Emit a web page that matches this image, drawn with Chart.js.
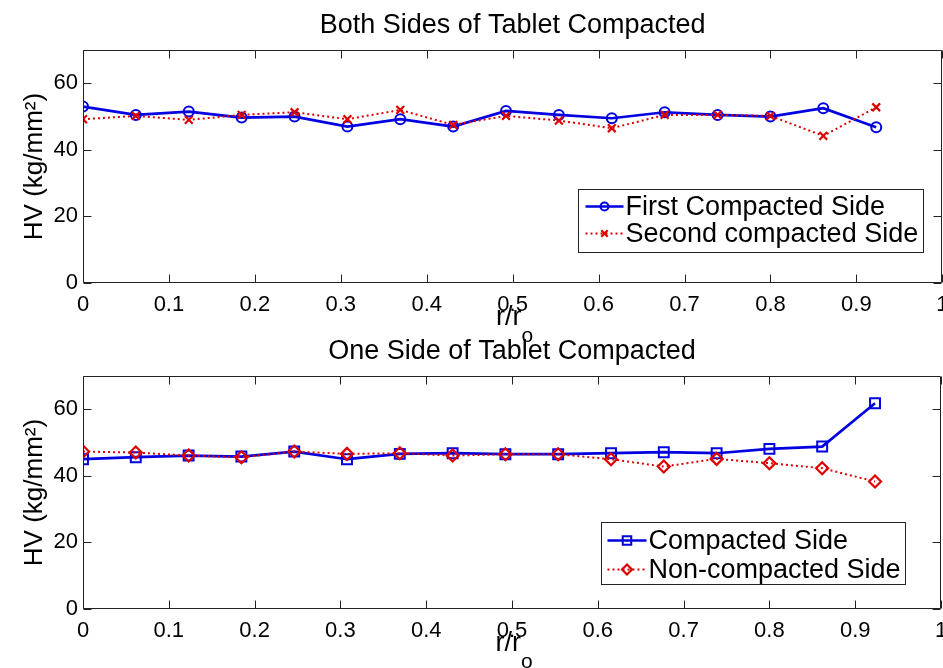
<!DOCTYPE html>
<html lang="en">
<head>
<meta charset="UTF-8">
<title>Tablet hardness profile</title>
<script src="https://cdn.jsdelivr.net/npm/chart.js@4.4.0/dist/chart.umd.min.js"></script>
<style>
    html, body { margin: 0; padding: 0; background: #fff; overflow: hidden; }
    canvas { position: absolute; left: 0; }
    #both_sides { top: 0; }
    #one_side { top: 326px; }
</style>
</head>
<body>
<!-- canvases a bit wider than the window so the last x label runs off the edge -->
<canvas id="both_sides" width="950" height="342"></canvas>
<canvas id="one_side" width="950" height="342"></canvas>
<script>
// radial position r/ro of each indentation
const rRatio = [0, 0.0615, 0.1231, 0.1846, 0.2462, 0.3077, 0.3692, 0.4308, 0.4923, 0.5538, 0.6154, 0.6769, 0.7385, 0.8, 0.8615, 0.9231];

// Vickers hardness, kg/mm2
const firstSide = [53.0, 50.5, 51.5, 49.7, 50.0, 47.0, 49.2, 47.0, 51.7, 50.5, 49.5, 51.3, 50.5, 50.0, 52.5, 46.8];
const secondSide = [49.2, 50.2, 49.0, 50.5, 51.3, 49.2, 52.0, 47.5, 50.2, 48.8, 46.5, 50.5, 50.5, 50.2, 44.2, 52.8];
const compactedSide = [45.0, 45.6, 46.1, 45.8, 47.3, 45.0, 46.6, 46.8, 46.5, 46.5, 46.8, 47.1, 46.8, 48.1, 48.8, 61.8];
const nonCompactedSide = [47.3, 47.0, 46.1, 45.6, 47.3, 46.6, 46.8, 46.1, 46.5, 46.5, 45.0, 42.8, 45.1, 43.8, 42.3, 38.3];

const xTicks = [0, 0.1, 0.2, 0.3, 0.4, 0.5, 0.6, 0.7, 0.8, 0.9, 1];
const yTicks = [0, 20, 40, 60];

const BLUE = 'rgb(0,0,225)';
const RED = 'rgb(222,0,0)';
const FONT = '"Liberation Sans", Arial, Helvetica, sans-serif';

function toPoints(values) {
    return values.map((v, i) => ({ x: rRatio[i], y: v }));
}

function solidSeries(label, values, marker, radius) {
    return {
        label: label, data: toPoints(values),
        borderColor: BLUE, borderWidth: 2.7, tension: 0,
        pointStyle: marker, pointRadius: radius, pointBorderWidth: 2,
        pointBorderColor: BLUE, pointBackgroundColor: 'rgba(0,0,0,0)',
        order: 1
    };
}

function dottedSeries(label, values, marker, radius) {
    return {
        label: label, data: toPoints(values),
        borderColor: RED, borderWidth: 2, borderDash: [2, 3], tension: 0,
        pointStyle: marker, pointRadius: radius, pointBorderWidth: 2.2,
        pointBorderColor: RED, pointBackgroundColor: 'rgba(0,0,0,0)',
        order: 0
    };
}

// box, inward ticks, title, x label and legend drawn the matlab way
const matlabAxes = {
    id: 'matlabAxes',
    afterDraw(chart, args, opts) {
        const ctx = chart.ctx;
        const a = chart.chartArea;
        const x = chart.scales.x, y = chart.scales.y;
        const L = Math.round(a.left) + 0.5, R = Math.round(a.right) - 0.5;
        const T = Math.round(a.top) + 0.5, B = Math.round(a.bottom) - 0.5;
        const tick = 8;
        ctx.save();
        ctx.strokeStyle = '#222';
        ctx.lineWidth = 1;
        ctx.setLineDash([]);
        ctx.beginPath();
        ctx.moveTo(L, T); ctx.lineTo(R, T); ctx.lineTo(R, B); ctx.lineTo(L, B); ctx.closePath();
        x.ticks.forEach(t => {
            const px = Math.round(x.getPixelForValue(t.value)) + 0.5;
            ctx.moveTo(px, B); ctx.lineTo(px, B - tick);
            ctx.moveTo(px, T); ctx.lineTo(px, T + tick);
        });
        y.ticks.forEach(t => {
            const py = Math.round(y.getPixelForValue(t.value)) + 0.5;
            ctx.moveTo(L, py); ctx.lineTo(L + tick, py);
            ctx.moveTo(R, py); ctx.lineTo(R - tick, py);
        });
        ctx.stroke();

        const cx = (a.left + a.right) / 2;
        ctx.fillStyle = '#000';
        ctx.textBaseline = 'middle';

        // title
        ctx.textAlign = 'center';
        ctx.font = '27px ' + FONT;
        ctx.fillText(opts.title, cx, a.top - 24);

        // x label r/r with subscript o
        ctx.textAlign = 'left';
        ctx.font = '27px ' + FONT;
        const main = 'r/r';
        const wMain = ctx.measureText(main).width;
        ctx.font = '21px ' + FONT;
        const wSub = ctx.measureText('o').width;
        const x0 = cx - (wMain + wSub) / 2 + 2;
        ctx.font = '27px ' + FONT;
        ctx.fillText(main, x0, a.bottom + 35);
        ctx.font = '21px ' + FONT;
        ctx.fillText('o', x0 + wMain, a.bottom + 53);

        // legend
        const lg = opts.legend;
        const bx = Math.round(a.right - lg.right - lg.width) + 0.5;
        const by = Math.round(a.bottom - lg.bottom - lg.height) + 0.5;
        ctx.fillStyle = '#fff';
        ctx.fillRect(bx, by, lg.width, lg.height);
        ctx.strokeStyle = '#222';
        ctx.lineWidth = 1;
        ctx.strokeRect(bx, by, lg.width, lg.height);
        chart.data.datasets.forEach((ds, i) => {
            const ry = by + lg.firstRow + i * lg.rowGap;
            const sx = bx + lg.sampleLeft, ex = sx + lg.sampleWidth;
            ctx.strokeStyle = ds.borderColor;
            ctx.lineWidth = ds.borderWidth;
            ctx.setLineDash(ds.borderDash || []);
            ctx.beginPath();
            ctx.moveTo(sx, ry); ctx.lineTo(ex, ry);
            ctx.stroke();
            ctx.setLineDash([]);
            ctx.lineWidth = ds.pointBorderWidth;
            ctx.strokeStyle = ds.pointBorderColor;
            ctx.fillStyle = 'rgba(0,0,0,0)';
            Chart.helpers.drawPoint(ctx, {
                pointStyle: ds.pointStyle, radius: ds.pointRadius - 1,
                rotation: 0, borderWidth: ds.pointBorderWidth
            }, (sx + ex) / 2, ry);
            ctx.fillStyle = '#000';
            ctx.font = '27px ' + FONT;
            ctx.textAlign = 'left';
            ctx.fillText(ds.label, ex + 2, ry + 1);
        });
        ctx.restore();
    }
};

function makeChart(id, title, datasets, legend) {
    return new Chart(document.getElementById(id), {
        type: 'line',
        data: { datasets: datasets },
        plugins: [matlabAxes],
        options: {
            responsive: false,
            animation: false,
            layout: { padding: { top: 50, right: 1, left: 0, bottom: 0 } },
            plugins: {
                legend: { display: false },
                tooltip: { enabled: false },
                matlabAxes: { title: title, legend: legend }
            },
            scales: {
                x: {
                    type: 'linear', min: 0, max: 1,
                    grid: { display: false, drawTicks: false },
                    border: { display: false },
                    afterBuildTicks: s => { s.ticks = xTicks.map(v => ({ value: v })); },
                    // no room kept for the "1" label, it is cut at the edge
                    afterFit: s => { s.height = 59; s.paddingRight = 0; },
                    ticks: {
                        autoSkip: false, maxRotation: 0, padding: 9, color: '#000',
                        font: { family: FONT, size: 22 },
                        callback: v => String(v)
                    }
                },
                y: {
                    min: 0, max: 70,
                    grid: { display: false, drawTicks: false },
                    border: { display: false },
                    afterBuildTicks: s => { s.ticks = yTicks.map(v => ({ value: v })); },
                    afterFit: s => { s.width = 83; s.paddingTop = 0; s.paddingBottom = 0; },
                    ticks: { padding: 5, color: '#000', font: { family: FONT, size: 22 } },
                    title: {
                        display: true, text: 'HV (kg/mm²)', color: '#000',
                        font: { family: FONT, size: 26 }, padding: { top: 19, bottom: 0 }
                    }
                }
            }
        }
    });
}

makeChart('both_sides', 'Both Sides of Tablet Compacted', [
    solidSeries('First Compacted Side', firstSide, 'circle', 5),
    dottedSeries('Second compacted Side', secondSide, 'crossRot', 5.5)
], { right: 19, bottom: 31, width: 345, height: 63, sampleLeft: 7, sampleWidth: 38, firstRow: 17, rowGap: 27 });

makeChart('one_side', 'One Side of Tablet Compacted', [
    solidSeries('Compacted Side', compactedSide, 'rect', 7),
    dottedSeries('Non-compacted Side', nonCompactedSide, 'rectRot', 6)
], { right: 36, bottom: 25, width: 304, height: 62, sampleLeft: 6, sampleWidth: 39, firstRow: 18, rowGap: 29 });
</script>
</body>
</html>
